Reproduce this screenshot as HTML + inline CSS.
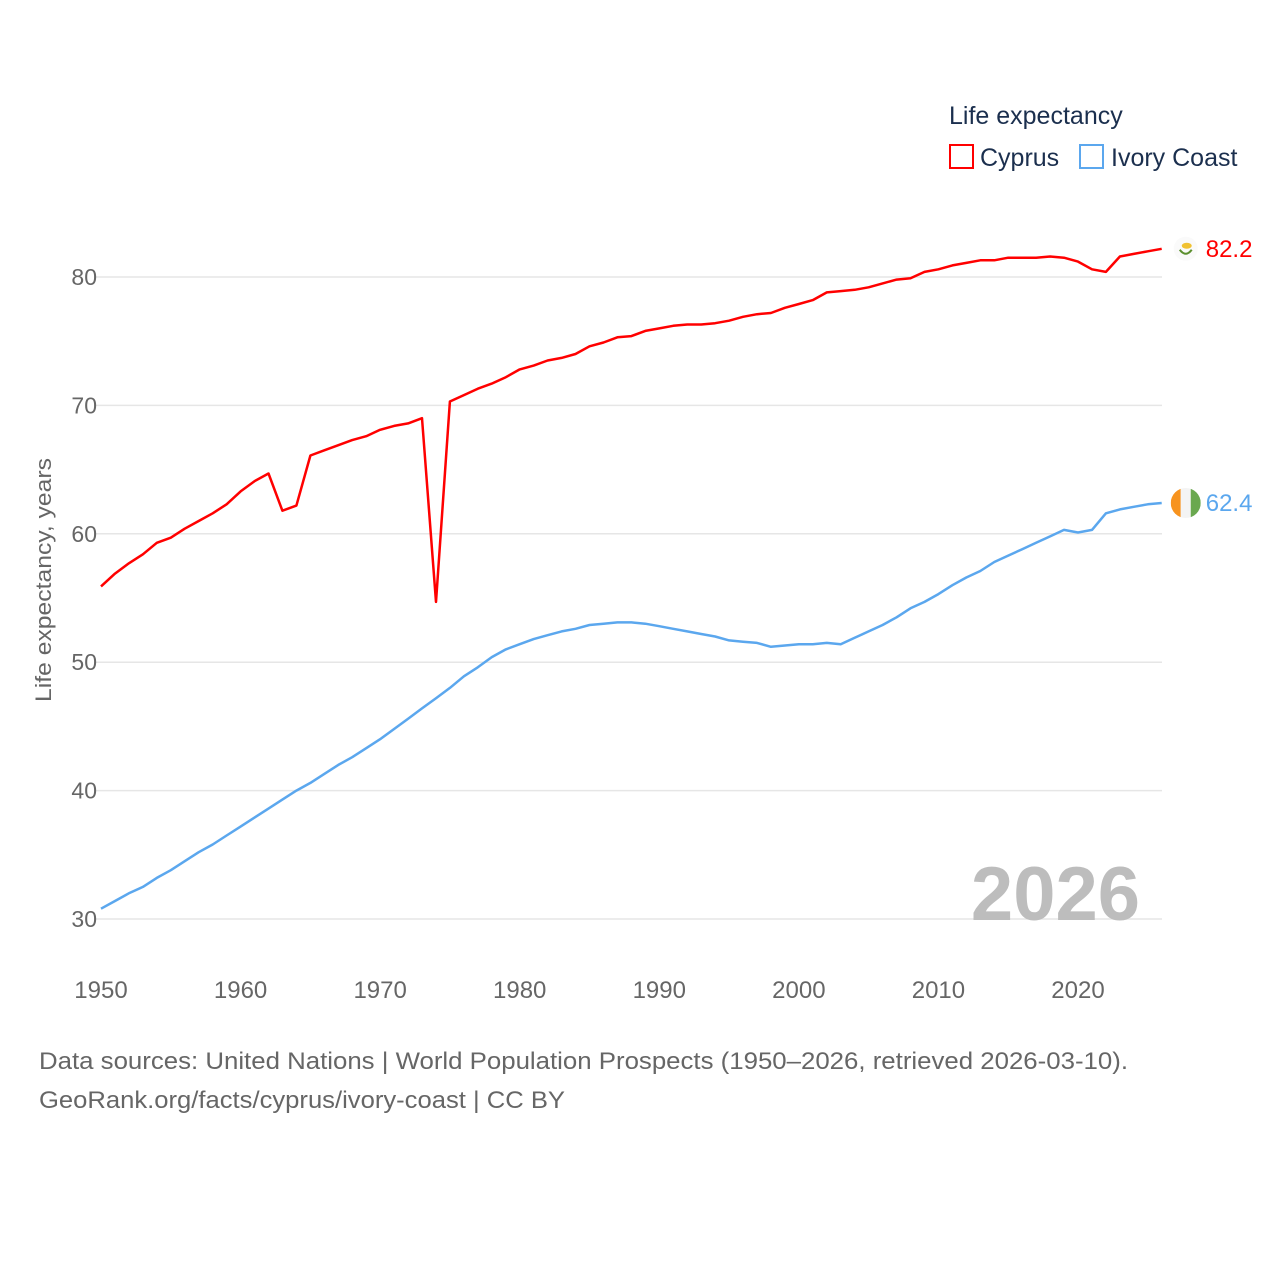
<!DOCTYPE html>
<html><head><meta charset="utf-8"><style>
body{margin:0;background:#fff;}
svg text{font-family:"Liberation Sans",sans-serif;}
</style></head><body>
<svg id="chart" width="1280" height="1280" viewBox="0 0 1280 1280" xmlns="http://www.w3.org/2000/svg">
<rect width="1280" height="1280" fill="#fff"/>
<g id="grid"></g>
<g id="yticks"></g>
<g id="xticks"></g>
<text x="1140" y="920" text-anchor="end" font-size="76" font-weight="bold" fill="#bdbdbd">2026</text>
<g id="series"></g>
<text transform="translate(51,580) rotate(-90)" text-anchor="middle" font-size="22" fill="#666" textLength="244" lengthAdjust="spacingAndGlyphs">Life expectancy, years</text>
<g>
<text x="949" y="124" font-size="25" fill="#1b2f4e">Life expectancy</text>
<g><rect x="950" y="145" width="23" height="23" fill="none" stroke="#ff0000" stroke-width="2"/><text x="980" y="166" font-size="25" fill="#1b2f4e">Cyprus</text></g>
<g><rect x="1080" y="145" width="23" height="23" fill="none" stroke="#5ba7ee" stroke-width="2"/><text x="1111" y="166" font-size="25" fill="#1b2f4e">Ivory Coast</text></g>
</g>
<text x="39" y="1069" font-size="24" fill="#666" textLength="1089" lengthAdjust="spacingAndGlyphs">Data sources: United Nations | World Population Prospects (1950–2026, retrieved 2026-03-10).</text>
<text x="39" y="1108" font-size="24" fill="#666" textLength="526" lengthAdjust="spacingAndGlyphs">GeoRank.org/facts/cyprus/ivory-coast | CC BY</text>
</svg>
<script>
const years = [];
for (let y = 1950; y <= 2026; y++) years.push(y);
const cyprusValues = [55.9,56.9,57.7,58.4,59.3,59.7,60.4,61.0,61.6,62.3,63.3,64.1,64.7,61.8,62.2,66.1,66.5,66.9,67.3,67.6,68.1,68.4,68.6,69.0,54.7,70.3,70.8,71.3,71.7,72.2,72.8,73.1,73.5,73.7,74.0,74.6,74.9,75.3,75.4,75.8,76.0,76.2,76.3,76.3,76.4,76.6,76.9,77.1,77.2,77.6,77.9,78.2,78.8,78.9,79.0,79.2,79.5,79.8,79.9,80.4,80.6,80.9,81.1,81.3,81.3,81.5,81.5,81.5,81.6,81.5,81.2,80.6,80.4,81.6,81.8,82.0,82.2];
const ivoryValues = [30.8,31.4,32.0,32.5,33.2,33.8,34.5,35.2,35.8,36.5,37.2,37.9,38.6,39.3,40.0,40.6,41.3,42.0,42.6,43.3,44.0,44.8,45.6,46.4,47.2,48.0,48.9,49.6,50.4,51.0,51.4,51.8,52.1,52.4,52.6,52.9,53.0,53.1,53.1,53.0,52.8,52.6,52.4,52.2,52.0,51.7,51.6,51.5,51.2,51.3,51.4,51.4,51.5,51.4,51.9,52.4,52.9,53.5,54.2,54.7,55.3,56.0,56.6,57.1,57.8,58.3,58.8,59.3,59.8,60.3,60.1,60.3,61.6,61.9,62.1,62.3,62.4];
const yTickValues = [30,40,50,60,70,80];
const xTickValues = [1950,1960,1970,1980,1990,2000,2010,2020];

const NS = "http://www.w3.org/2000/svg";
const xs = yr => 101 + (yr - 1950) * (977 / 70);
const ys = v => 277 + (80 - v) * (642 / 50);
function mk(tag, attrs, parent) {
  const e = document.createElementNS(NS, tag);
  for (const k in attrs) e.setAttribute(k, attrs[k]);
  parent.appendChild(e);
  return e;
}
const grid = document.getElementById('grid');
const yt = document.getElementById('yticks');
yTickValues.forEach(v => {
  const l = mk('line', {x1: 95, x2: 1162, y1: ys(v), y2: ys(v), stroke: '#e6e6e6', 'stroke-width': 1.5}, grid);
  
  
  const t = mk('text', {x: 97, y: ys(v) + 8, 'text-anchor': 'end', 'font-size': 23, fill: '#666'}, yt);
  t.textContent = v;
  
  
});
const xt = document.getElementById('xticks');
xTickValues.forEach(v => {
  const t = mk('text', {x: xs(v), y: 998, 'text-anchor': 'middle', 'font-size': 24, fill: '#666'}, xt);
  t.textContent = v;
  
  
});
const sg = document.getElementById('series');
function drawSeries(vals, color, name) {
  const d = vals.map((v, i) => (i ? 'L' : 'M') + xs(years[i]).toFixed(1) + ',' + ys(v).toFixed(1)).join('');
  const p = mk('path', {d: d, fill: 'none', stroke: color, 'stroke-width': 2.5, 'stroke-linejoin': 'round'}, sg);
  
  
  const last = vals[vals.length - 1];
  const lx = xs(years[years.length - 1]), ly = ys(last);
  const t = mk('text', {x: lx + 44, y: ly + 8, 'font-size': 24, fill: color}, sg);
  t.textContent = last.toFixed(1);
  
  
  return {lx, ly};
}
const c = drawSeries(cyprusValues, '#ff0000', 'cyprus');
const iv = drawSeries(ivoryValues, '#5ba7ee', 'ivory-coast');
const cf = mk('g', {}, sg);


mk('circle', {cx: c.lx + 24, cy: c.ly, r: 12, fill: '#fafafa'}, cf);
mk('ellipse', {cx: c.lx + 25, cy: c.ly - 3, rx: 5, ry: 3, fill: '#f1c232'}, cf);
mk('path', {d: `M${c.lx+18},${c.ly+1} Q${c.lx+24},${c.ly+9} ${c.lx+30},${c.ly+1}`, fill: 'none', stroke: '#5b8f2e', 'stroke-width': 2}, cf);
const ifg = mk('g', {}, sg);


const cx = iv.lx + 24, cy = iv.ly;
mk('clipPath', {id: 'icclip'}, ifg);
mk('circle', {cx: cx, cy: cy, r: 15}, document.getElementById('icclip'));
const fg = mk('g', {'clip-path': 'url(#icclip)'}, ifg);
mk('rect', {x: cx - 15, y: cy - 15, width: 10, height: 30, fill: '#f7931e'}, fg);
mk('rect', {x: cx - 5, y: cy - 15, width: 10, height: 30, fill: '#f4f4f4'}, fg);
mk('rect', {x: cx + 5, y: cy - 15, width: 10, height: 30, fill: '#6aa84f'}, fg);
</script>
</body></html>
